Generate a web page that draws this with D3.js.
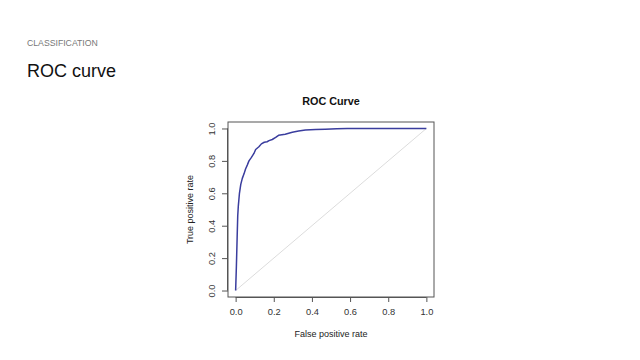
<!DOCTYPE html>
<html><head><meta charset="utf-8">
<script src="https://cdn.jsdelivr.net/npm/d3@7/dist/d3.min.js"></script>
<style>
body{margin:0;background:#fff;}
svg{display:block;font-family:"Liberation Sans",Arial,sans-serif;}
</style></head>
<body><svg id="c" width="640" height="360"></svg>
<script>
const fpr = [0, 0.004, 0.008, 0.011, 0.014, 0.02, 0.027, 0.035, 0.044, 0.052, 0.061, 0.07, 0.082, 0.096, 0.105, 0.122, 0.135, 0.15, 0.165, 0.175, 0.192, 0.21, 0.225, 0.26, 0.297, 0.33, 0.366, 0.419, 0.47, 0.53, 0.585, 1.0];
const tpr = [0, 0.15, 0.33, 0.46, 0.52, 0.6, 0.655, 0.692, 0.72, 0.75, 0.774, 0.8, 0.82, 0.846, 0.87, 0.887, 0.905, 0.915, 0.918, 0.925, 0.932, 0.945, 0.958, 0.965, 0.977, 0.984, 0.99, 0.993, 0.996, 0.998, 1.0, 1.0];
const ticks = [0, 0.2, 0.4, 0.6, 0.8, 1.0];
const tickLabels = ["0.0", "0.2", "0.4", "0.6", "0.8", "1.0"];

const svg = d3.select("#c");
svg.append("text").attr("x", 27).attr("y", 46).attr("font-size", 8.7).attr("fill", "#777").text("CLASSIFICATION");
svg.append("text").attr("x", 27).attr("y", 77).attr("font-size", 18).attr("fill", "#111").text("ROC curve");

const box = {l: 228, r: 434, t: 122, b: 297};
const padX = (box.r - box.l) * 0.04 / 1.08, padY = (box.b - box.t) * 0.04 / 1.08;
const x = d3.scaleLinear().domain([0, 1]).range([box.l + padX, box.r - padX]);
const y = d3.scaleLinear().domain([0, 1]).range([box.b - padY, box.t + padY]);

svg.append("text").attr("x", (box.l + box.r) / 2).attr("y", 105).attr("text-anchor", "middle")
  .attr("font-size", 10.8).attr("font-weight", "bold").attr("fill", "#111").text("ROC Curve");

// diagonal
svg.append("line").attr("x1", x(0)).attr("y1", y(0)).attr("x2", x(1)).attr("y2", y(1))
  .attr("stroke", "#dcdcdc").attr("stroke-width", 1);

const pts = fpr.map((f, i) => [f, tpr[i]]);
svg.append("path").datum(pts)
  .attr("d", d3.line().x(d => x(d[0])).y(d => y(d[1])))
  .attr("fill", "none").attr("stroke", "#3a3d9e").attr("stroke-width", 1.5).attr("stroke-linejoin", "round");

svg.append("rect").attr("x", box.l).attr("y", box.t).attr("width", box.r - box.l).attr("height", box.b - box.t)
  .attr("fill", "none").attr("stroke", "#555").attr("stroke-width", 1);

const xAxis = d3.axisBottom(x).tickValues(ticks).tickFormat((d, i) => tickLabels[i]).tickSize(5).tickPadding(6);
const gx = svg.append("g").attr("transform", `translate(0,${box.b})`).call(xAxis);
gx.select(".domain").attr("d", `M${x(0)},0.5H${x(1)}`).attr("stroke", "#555");
gx.selectAll(".tick line").attr("stroke", "#555");
gx.selectAll("text").attr("font-size", 9.3).attr("fill", "#333").attr("font-family", "Liberation Sans, Arial, sans-serif");

const yAxis = d3.axisLeft(y).tickValues(ticks).tickFormat((d, i) => tickLabels[i]).tickSize(6).tickPadding(6);
const gy = svg.append("g").attr("transform", `translate(${box.l},0)`).call(yAxis);
gy.select(".domain").attr("d", `M-0.5,${y(0)}V${y(1)}`).attr("stroke", "#555");
gy.selectAll(".tick line").attr("stroke", "#555");
gy.selectAll("text").attr("font-size", 9.3).attr("fill", "#333").attr("font-family", "Liberation Sans, Arial, sans-serif")
  .attr("x", null).attr("dy", null).attr("text-anchor", "middle")
  .attr("transform", "translate(-13,0) rotate(-90)").attr("dy", "0em");

svg.append("text").attr("x", x(0.5)).attr("y", 337).attr("text-anchor", "middle").attr("font-size", 9).attr("fill", "#222").text("False positive rate");
svg.append("text").attr("transform", `translate(193,${y(0.5)}) rotate(-90)`).attr("text-anchor", "middle").attr("font-size", 9).attr("fill", "#222").text("True positive rate");
</script></body></html>
